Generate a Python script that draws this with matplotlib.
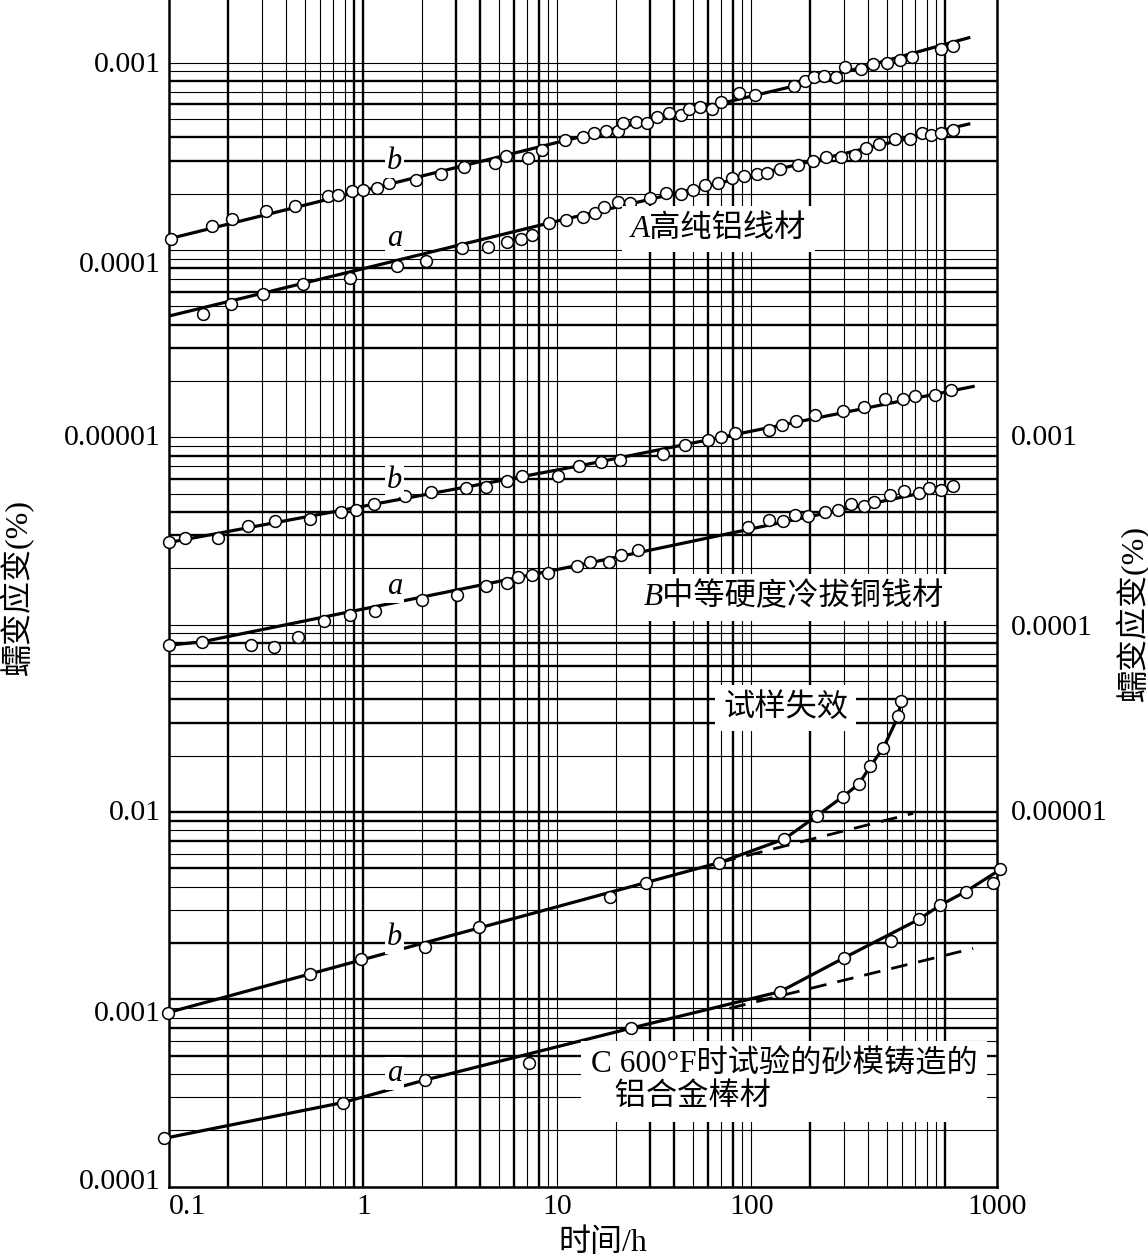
import matplotlib.pyplot as plt
from matplotlib.ticker import NullLocator
from matplotlib.transforms import ScaledTranslation

# ---------------- values ----------------
# A 高纯铝线材 (upper block, left scale)
A_b_time = [0.102, 0.165, 0.211, 0.316, 0.443, 0.660, 0.743, 0.871, 1.0, 1.17,
            1.35, 1.86, 2.50, 3.29, 4.77, 5.46, 7.05, 8.30, 11.0, 13.6,
            15.4, 17.9, 20.5, 21.9, 25.4, 29.1, 32.8, 37.6, 43.2, 47.9,
            54.3, 62.4, 69.5, 86.0, 105, 166, 189, 210, 237, 273,
            304, 366, 422, 502, 583, 670, 946, 1099]
A_b_strain = [1.15e-4, 1.34e-4, 1.47e-4, 1.62e-4, 1.72e-4, 1.94e-4, 1.97e-4, 2.07e-4, 2.09e-4, 2.14e-4,
              2.27e-4, 2.36e-4, 2.55e-4, 2.79e-4, 2.92e-4, 3.18e-4, 3.09e-4, 3.42e-4, 3.85e-4, 4.03e-4,
              4.20e-4, 4.32e-4, 4.32e-4, 4.75e-4, 4.83e-4, 4.78e-4, 5.15e-4, 5.37e-4, 5.26e-4, 5.66e-4,
              5.82e-4, 5.64e-4, 6.19e-4, 6.92e-4, 6.73e-4, 7.51e-4, 7.96e-4, 8.42e-4, 8.49e-4, 8.42e-4,
              9.45e-4, 9.29e-4, 9.80e-4, 9.93e-4, 1.03e-3, 1.08e-3, 1.19e-3, 1.23e-3]
A_b_fit_time = [0.1, 11.0, 166, 1320]
A_b_fit_strain = [1.15e-4, 3.85e-4, 7.51e-4, 1.36e-3]

A_a_time = [0.150, 0.209, 0.303, 0.491, 0.850, 1.50, 2.10, 3.21, 4.37, 5.52,
            6.47, 7.43, 9.05, 11.1, 13.5, 15.6, 17.3, 20.5, 23.7, 30.0,
            36.5, 43.6, 49.8, 57.6, 67.3, 79.8, 91.6, 107, 121, 140,
            175, 209, 242, 289, 341, 388, 455, 550, 657, 755,
            840, 953, 1099]
A_a_strain = [4.56e-5, 5.13e-5, 5.85e-5, 6.61e-5, 7.11e-5, 8.22e-5, 8.77e-5, 1.02e-4, 1.04e-4, 1.11e-4,
              1.15e-4, 1.21e-4, 1.39e-4, 1.44e-4, 1.51e-4, 1.57e-4, 1.69e-4, 1.81e-4, 1.78e-4, 1.90e-4,
              2.01e-4, 1.99e-4, 2.09e-4, 2.22e-4, 2.27e-4, 2.43e-4, 2.48e-4, 2.55e-4, 2.58e-4, 2.71e-4,
              2.84e-4, 2.99e-4, 3.15e-4, 3.15e-4, 3.21e-4, 3.49e-4, 3.68e-4, 3.90e-4, 3.90e-4, 4.20e-4,
              4.11e-4, 4.23e-4, 4.37e-4]
A_a_fit_time = [0.1, 1, 10, 100, 1320]
A_a_fit_strain = [4.45e-5, 7.96e-5, 1.43e-4, 2.50e-4, 4.71e-4]

# B 中等硬度冷拔铜钱材 (middle block, right scale)
B_b_time = [0.1, 0.121, 0.178, 0.253, 0.351, 0.531, 0.764, 0.915, 1.13, 1.64,
            2.23, 3.37, 4.30, 5.53, 6.60, 10.1, 13.0, 16.8, 21.0, 35.1,
            45.6, 59.8, 69.9, 82.4, 123, 144, 170, 214, 296, 379,
            489, 602, 700, 883, 1074]
B_b_strain = [2.75e-4, 2.92e-4, 2.90e-4, 3.35e-4, 3.56e-4, 3.67e-4, 3.98e-4, 4.11e-4, 4.41e-4, 4.85e-4,
              5.08e-4, 5.36e-4, 5.41e-4, 5.82e-4, 6.19e-4, 6.25e-4, 7.07e-4, 7.42e-4, 7.57e-4, 8.15e-4,
              9.10e-4, 9.72e-4, 1.00e-3, 1.05e-3, 1.10e-3, 1.17e-3, 1.23e-3, 1.32e-3, 1.38e-3, 1.46e-3,
              1.60e-3, 1.60e-3, 1.66e-3, 1.69e-3, 1.78e-3]
B_b_fit_time = [0.1, 13.0, 1391]
B_b_fit_strain = [2.75e-4, 7.05e-4, 1.87e-3]

B_a_time = [0.1, 0.148, 0.264, 0.348, 0.458, 0.624, 0.849, 1.15, 2.00, 3.03,
            4.31, 5.48, 6.26, 7.37, 8.97, 12.6, 14.7, 18.5, 21.2, 25.9,
            96.3, 123, 146, 168, 196, 240, 280, 327, 382, 431,
            518, 610, 728, 822, 952, 1099]
B_a_strain = [7.78e-5, 8.11e-5, 7.78e-5, 7.57e-5, 8.63e-5, 1.05e-4, 1.12e-4, 1.19e-4, 1.35e-4, 1.44e-4,
              1.61e-4, 1.68e-4, 1.79e-4, 1.84e-4, 1.90e-4, 2.07e-4, 2.15e-4, 2.15e-4, 2.37e-4, 2.52e-4,
              3.31e-4, 3.62e-4, 3.56e-4, 3.87e-4, 3.82e-4, 3.98e-4, 4.09e-4, 4.41e-4, 4.30e-4, 4.54e-4,
              4.94e-4, 5.15e-4, 5.02e-4, 5.36e-4, 5.23e-4, 5.48e-4]
B_a_fit_time = [0.1, 0.148, 12.6, 1099]
B_a_fit_strain = [7.78e-5, 8.11e-5, 2.07e-4, 5.48e-4]

# C 600°F 砂模铸造铝合金棒材 (lower block, left scale)
C_b_time = [0.098, 0.531, 0.977, 2.08, 3.94, 18.7, 28.6, 68.4, 148, 217, 297, 358, 411, 478, 573, 589]
C_b_strain = [8.49e-4, 1.37e-3, 1.64e-3, 1.91e-3, 2.42e-3, 3.53e-3, 4.17e-3, 5.37e-3,
              7.18e-3, 9.53e-3, 1.21e-2, 1.41e-2, 1.76e-2, 2.19e-2, 3.26e-2, 3.93e-2]
C_b_fit_time = [0.098, 68.4, 148, 217, 297, 358, 411, 478, 573, 589]
C_b_fit_strain = [8.49e-4, 5.37e-3, 7.18e-3, 9.53e-3, 1.21e-2, 1.41e-2, 1.76e-2, 2.19e-2, 3.26e-2, 3.93e-2]
C_b_trend_time = [68.4, 682]
C_b_trend_strain = [5.37e-3, 9.84e-3]

C_a_time = [0.0937, 0.781, 2.08, 7.11, 23.9, 141, 302, 522, 729, 944, 1273, 1754, 1923]
C_a_strain = [1.81e-4, 2.81e-4, 3.71e-4, 4.56e-4, 7.01e-4, 1.10e-3, 1.67e-3,
              2.05e-3, 2.67e-3, 3.19e-3, 3.76e-3, 4.20e-3, 4.94e-3]
C_a_fit_time = [0.0937, 0.781, 2.08, 23.9, 141, 302, 729, 944, 1273, 1923]
C_a_fit_strain = [1.81e-4, 2.81e-4, 3.71e-4, 7.01e-4, 1.10e-3, 1.67e-3, 2.67e-3, 3.19e-3, 3.76e-3, 4.94e-3]
C_a_trend_time = [77.0, 1391]
C_a_trend_strain = [8.95e-4, 1.87e-3]

x_ticks = [0.1, 1, 10, 100, 1847]
x_labels = ['0.1', '1', '10', '100', '1000']
A_ticks = [1e-3, 1e-4, 1e-5]
A_labels = ['0.001', '0.0001', '0.00001']
B_ticks = [1e-3, 1e-4, 1e-5]
B_labels = ['0.001', '0.0001', '0.00001']
C_ticks = [1e-2, 1e-3, 1e-4]
C_labels = ['0.01', '0.001', '0.0001']

# ---------------- figure ----------------
plt.rcParams['font.family'] = ['Liberation Serif', 'Noto Sans CJK SC']

fig = plt.figure(figsize=(11.48, 12.58), dpi=100)
rect = [0.1475, 0.0567, 0.7210, 0.9433]
axC = fig.add_axes(rect)
axB = fig.add_axes(rect, facecolor='none')
axA = fig.add_axes(rect, facecolor='none')

# three log scales stacked on one sheet of log paper
for ax, lim in ((axA, (1e-9, 2.163e-3)), (axB, (1e-7, 0.2163)), (axC, (1e-4, 216.3))):
    ax.set_xscale('log')
    ax.set_yscale('log')
    ax.set_xlim(0.1, x_ticks[-1])
    ax.set_ylim(*lim)
    ax.xaxis.set_minor_locator(NullLocator())
    ax.yaxis.set_minor_locator(NullLocator())
    ax.tick_params(which='both', length=0, labelsize=21.5)

for ax in (axA, axB):
    for sp in ax.spines.values():
        sp.set_visible(False)
    ax.tick_params(axis='x', bottom=False, labelbottom=False)

axC.spines['top'].set_visible(False)
for s in ('left', 'bottom', 'right'):
    axC.spines[s].set_linewidth(1.8)

# grid lines of the log paper (thick / thin as on the original sheet)
thick_y = {-4: (5, 7), -3: (1, 2, 5, 7, 9), -2: (1, 3, 4, 6, 8),
           -1: (3, 4, 6, 8), 0: (3, 4, 6, 8), 1: (3, 4, 6, 8), 2: ()}
for k, thick in thick_y.items():
    for m in range(1, 10):
        if k == -4 and m == 1:
            continue
        if k == 2 and m > 1:
            break
        axC.axhline(m * 10.0 ** k, color='k', lw=1.7 if m in thick else 0.8, zorder=1)

thick_x = {-1: (2, 9), 0: (1, 3, 4, 6, 8), 1: (3, 4, 6, 8), 2: (2,), 3: (1,)}
for k, thick in thick_x.items():
    for m in range(1, 10):
        if k == -1 and m == 1:
            continue
        if k == 3 and m > 1:
            break
        axC.axvline(m * 10.0 ** k, color='k', lw=1.7 if m in thick else 0.8, zorder=1)


def draw(ax, t, e, ft, fe):
    ax.plot(ft, fe, '-', color='k', lw=2.3, zorder=3)
    ax.plot(t, e, 'o', ms=8.5, mfc='white', mec='k', mew=1.1, zorder=4, clip_on=False)


draw(axA, A_b_time, A_b_strain, A_b_fit_time, A_b_fit_strain)
draw(axA, A_a_time, A_a_strain, A_a_fit_time, A_a_fit_strain)
draw(axB, B_b_time, B_b_strain, B_b_fit_time, B_b_fit_strain)
draw(axB, B_a_time, B_a_strain, B_a_fit_time, B_a_fit_strain)
axC.plot(C_b_trend_time, C_b_trend_strain, '--', color='k', lw=2.0, dashes=(6, 4), zorder=3)
axC.plot(C_a_trend_time, C_a_trend_strain, '--', color='k', lw=2.0, dashes=(6, 4), zorder=3)
draw(axC, C_b_time, C_b_strain, C_b_fit_time, C_b_fit_strain)
draw(axC, C_a_time, C_a_strain, C_a_fit_time, C_a_fit_strain)

# tick labels
axA.set_yticks(A_ticks, A_labels)
axC.set_yticks(C_ticks, C_labels)
axB.set_yticks(B_ticks, B_labels)
axB.yaxis.tick_right()
axB.tick_params(axis='y', pad=10)
axA.tick_params(axis='y', pad=6)
axC.tick_params(axis='y', pad=6)
axC.set_xticks(x_ticks, x_labels)
axC.tick_params(axis='x', pad=5)
axC.get_xticklabels()[0].set_horizontalalignment('left')


def shift(labels, dys):
    for lab, dy in zip(labels, dys):
        lab.set_transform(lab.get_transform() + ScaledTranslation(0, dy / 100, fig.dpi_scale_trans))


shift(axA.get_yticklabels(), [1, -12, 2])
shift(axC.get_yticklabels(), [2, -12, 8])
shift(axB.get_yticklabels(), [2, 0, 2])

# curve letters
box = dict(facecolor='white', edgecolor='none', pad=1.5)
for ax, y, s in ((axA, 2.96e-4, 'b'), (axA, 1.16e-4, 'a'),
                 (axB, 5.91e-4, 'b'), (axB, 1.60e-4, 'a'),
                 (axC, 2.13e-3, 'b'), (axC, 4.03e-4, 'a')):
    ax.text(1.45, y, s, style='italic', fontsize=22, ha='center', va='center', bbox=box, zorder=5)

# block titles
wbox = dict(facecolor='white', edgecolor='none', pad=6)
axA.text(67.8, 1.29e-4, 'A高纯铝线材', style='italic', fontsize=22.5,
         ha='center', va='center', bbox=wbox, zorder=5)
axB.text(165, 1.40e-4, 'B中等硬度冷拔铜钱材', style='italic', fontsize=22.5,
         ha='center', va='center', bbox=wbox, zorder=5)
axC.text(150, 3.59e-2, '试样失效', fontsize=22.5,
         ha='center', va='center', bbox=wbox, zorder=5)
axC.text(14.9, 3.66e-4, 'C 600°F时试验的砂模铸造的\n   铝合金棒材', fontsize=22.5,
         ha='left', va='center', linespacing=1.15,
         bbox=dict(facecolor='white', edgecolor='none', pad=7), zorder=5)

# axis titles
fig.text(0.5253, 0.0119, '时间/h', fontsize=23, ha='center', va='center')
fig.text(0.0150, 0.5330, '蠕变应变(%)', fontsize=23, ha='center', va='center', rotation=90)
fig.text(0.9868, 0.5130, '蠕变应变(%)', fontsize=23, ha='center', va='center', rotation=90)

fig.savefig('out.png', dpi=100)
